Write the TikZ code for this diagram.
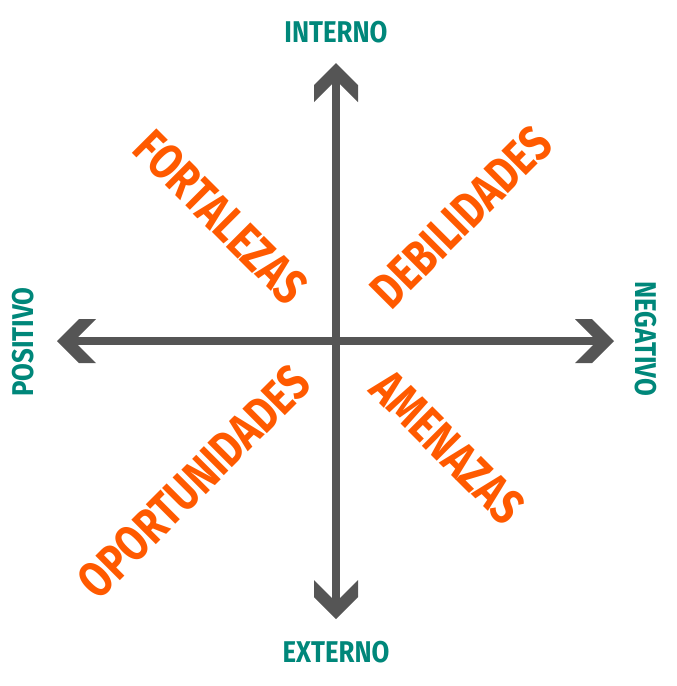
\documentclass[tikz,border=0pt]{standalone}
\usepackage{fontspec}
\setmainfont{Fira Sans}
\newfontfamily\quadfont{Fira Sans}[FakeStretch=0.79]
\newfontfamily\labfont{Fira Sans}[FakeStretch=0.86]
\definecolor{teal}{HTML}{00877A}
\definecolor{orng}{HTML}{FF5A00}
\definecolor{axisgray}{HTML}{555555}
\begin{document}
\begin{tikzpicture}[x=1pt,y=-1pt,
  axis/.style={draw=axisgray,line width=8pt},
  chev/.pic={\fill[axisgray] (0,0) -- (-22,-22) -- (-39,-22) -- (-21,-4) -- (-21,4) -- (-39,22) -- (-22,22) -- cycle;},
  axlabel/.style={text=teal,font=\labfont\bfseries\fontsize{30}{30}\selectfont,inner sep=0pt},
  quad/.style={text=orng,font=\quadfont\bfseries\fontsize{50}{50}\selectfont,inner sep=0pt}]
\useasboundingbox (0,0) rectangle (677,686);
\coordinate (top) at (336,63);
\coordinate (bot) at (336,619);
\coordinate (lft) at (57,341);
\coordinate (rgt) at (614,341);
\draw[axis] ([yshift=-15]top) -- ([yshift=15]bot);
\draw[axis] ([xshift=15]lft) -- ([xshift=-15]rgt);
\pic[rotate=90] at (top) {chev};
\pic[rotate=-90] at (bot) {chev};
\pic[rotate=180] at (lft) {chev};
\pic at (rgt) {chev};
\node[axlabel] (int) at (336,32) {INTERNO};
\node[axlabel] (ext) at (336,652) {EXTERNO};
\node[axlabel,rotate=90] (pos) at (23,342) {POSITIVO};
\node[axlabel,rotate=-90] (neg) at (646,339) {NEGATIVO};
\node[quad,rotate=-45] (fort) at (221,217) {FORTALEZAS};
\node[quad,rotate=45] (deb) at (461,217) {DEBILIDADES};
\node[quad,rotate=45] (opo) at (194,482) {OPORTUNIDADES};
\node[quad,rotate=-45] (ame) at (448,447) {AMENAZAS};
\end{tikzpicture}
\end{document}
